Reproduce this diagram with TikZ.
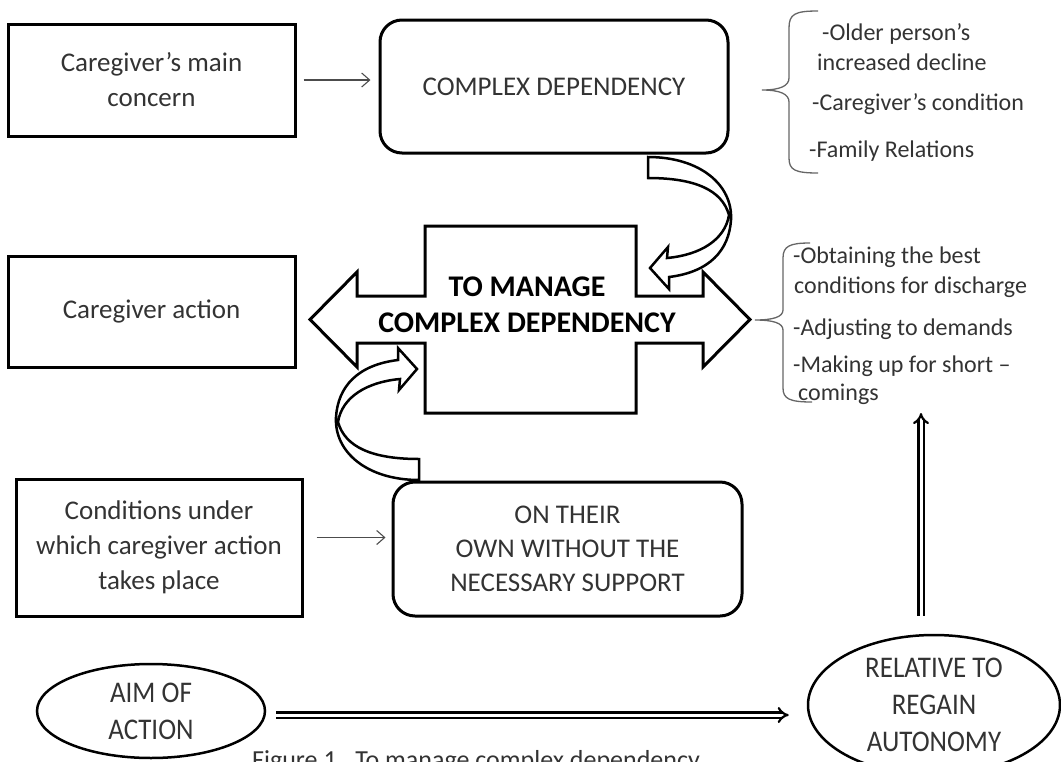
\documentclass[tikz,border=0pt]{standalone}
\usepackage{fontspec}
\setmainfont{Carlito}
\newfontfamily\narrowfont[FakeStretch=0.9]{Carlito}
\usetikzlibrary{positioning,shapes.geometric,arrows.meta}

\newcommand{\bendarrow}[1]{%
  \draw[bandarrow,#1] (648,157) .. controls (700,157) and (733,185) .. (731,220)
    .. controls (729,250) and (710,272) .. (669,277)
    -- (669,289) -- (650,268) -- (668,247) -- (667,258)
    .. controls (700,255) and (725,240) .. (729,215)
    .. controls (722,190) and (695,178) .. (648,178) -- cycle;}

\begin{document}
\begin{tikzpicture}[x=1pt,y=-1pt,
  sqbox/.style={draw,line width=3pt,minimum width=287pt,minimum height=112pt,align=center,
    font=\fontsize{27}{35}\selectfont,text=black!80},
  rbox/.style={draw,line width=3pt,rounded corners=22pt,align=center,
    font=\fontsize{27}{34}\selectfont,text=black!80},
  oval/.style={draw,ellipse,line width=2.5pt,inner sep=0pt},
  ovaltxt/.style={align=center,font=\narrowfont\fontsize{30}{37}\selectfont,text=black!80},
  listtxt/.style={anchor=base west,inner sep=0pt,font=\fontsize{24}{30}\selectfont,text=black!80},
  thinarrow/.style={line width=1.1pt,black!70,-{Straight Barb[length=8pt,width=14pt]}},
  dblarrow/.style={double,double distance=3pt,line width=2.2pt,-{Implies}},
  bracket/.style={line width=1.3pt,black!60},
  bandarrow/.style={draw,fill=white,line width=2.5pt,line join=miter}]
\useasboundingbox (0,0) rectangle (1061,761);
\clip (0,0) rectangle (1061,761);

\node[sqbox] (concern) at (151.5,80) {Caregiver’s main\\concern};
\node[rbox,minimum width=348pt,minimum height=133pt] (complex) at (554,86.5) {COMPLEX DEPENDENCY};
\node[sqbox,minimum height=111pt] (action) at (151.5,311.5) {Caregiver action};
\node[sqbox,minimum width=286pt,minimum height=137pt] (conditions) at (159,547.5) {Conditions under\\which caregiver action\\takes place};
\node[rbox,minimum width=349pt,minimum height=134pt] (own) at (567.5,549) {ON THEIR\\OWN WITHOUT THE\\NECESSARY SUPPORT};

\draw[thinarrow] ([xshift=7pt]concern.east) -- ([xshift=-8pt]complex.west |- concern.east);
\draw[thinarrow] ([xshift=13pt,yshift=10pt]conditions.east) -- ([xshift=-6pt,yshift=10pt]own.west |- conditions.east);

\coordinate (pivot) at (533.5,318.5);
\draw[line width=3pt,line join=miter] (310,319.5) -- (357,272) -- (357,296) -- (425,296) -- (425,226)
  -- (636,226) -- (636,296) -- (703,296) -- (703,272) -- (750,319.5) -- (703,367) -- (703,343)
  -- (636,343) -- (636,413) -- (425,413) -- (425,343) -- (357,343) -- (357,367) -- cycle;
\node[align=center,font=\bfseries\fontsize{30}{36}\selectfont] (manage) at (527,305) {TO MANAGE\\COMPLEX DEPENDENCY};
\bendarrow{}
\bendarrow{rotate around={180:(pivot)}}

\draw[bracket] (818,11) .. controls (795,11) and (789,14) .. (789,28) -- (789,78)
  .. controls (789,86) and (780,90) .. (762,90) .. controls (780,90) and (789,94) .. (789,102)
  -- (789,158) .. controls (789,170) and (795,173) .. (818,173);
\node[listtxt] (older) at (822,40) {-Older person’s};
\node[listtxt] (decline) at (817,70) {increased decline};
\node[listtxt] (carecond) at (812,110) {-Caregiver’s condition};
\node[listtxt] (family) at (809,157) {-Family Relations};

\draw[bracket] (810,243) .. controls (790,243) and (783,246) .. (783,258) -- (783,310)
  .. controls (783,317) and (773,320) .. (755,320) .. controls (773,320) and (783,323) .. (783,330)
  -- (783,388) .. controls (783,399) and (790,402) .. (812,402);
\node[listtxt] (obtain) at (793,263) {-Obtaining the best};
\node[listtxt] (discharge) at (794,293) {conditions for discharge};
\node[listtxt] (adjust) at (793,335) {-Adjusting to demands};
\node[listtxt] (makeup) at (793,372) {-Making up for short –};
\node[listtxt] (comings) at (798,400) {comings};

\node[oval,minimum width=228pt,minimum height=94pt] (aim) at (151,711) {};
\node[ovaltxt] (aimtxt) at (aim) {AIM OF\\ACTION};
\node[oval,minimum width=252pt,minimum height=140pt] (regain) at (934,705) {};
\node[ovaltxt] (regaintxt) at (regain) {RELATIVE TO\\REGAIN\\AUTONOMY};

\coordinate (aimtip) at ([xshift=10pt,yshift=-4pt]aim.east);
\draw[dblarrow,shorten >=18pt] (aimtip) -- (aimtip -| regain.west);
\coordinate (uptail) at ([xshift=-13pt,yshift=18pt]regain.north);
\coordinate (uphead) at (921,413);
\draw[dblarrow] (uptail) -- (uphead);

\node[anchor=base west,inner sep=0pt,font=\fontsize{26}{30}\selectfont,text=black!80] (caption) at (252,768)
  {Figure 1.\hspace{12pt}To manage complex dependency};
\end{tikzpicture}
\end{document}
